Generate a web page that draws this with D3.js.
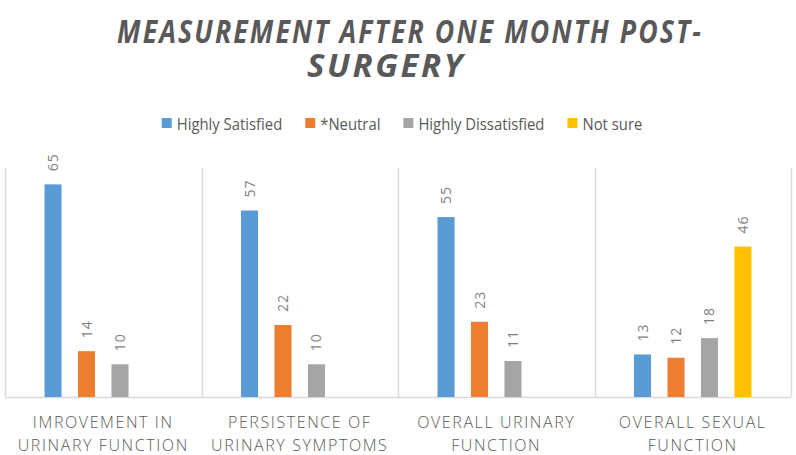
<!DOCTYPE html>
<html>
<head>
<meta charset="utf-8">
<script src="https://cdn.jsdelivr.net/npm/d3@7/dist/d3.min.js"></script>
<style>
  html, body { margin: 0; padding: 0; background: #fff; }
  svg { display: block; }
</style>
</head>
<body>
<svg id="chart" width="796" height="455"></svg>
<script>
// ---- Data ----
const categories = [
  ["IMROVEMENT IN", "URINARY FUNCTION"],
  ["PERSISTENCE OF", "URINARY SYMPTOMS"],
  ["OVERALL URINARY", "FUNCTION"],
  ["OVERALL SEXUAL", "FUNCTION"]
];
const seriesNames = ["Highly Satisfied", "*Neutral", "Highly Dissatisfied", "Not sure"];
const highlySatisfied = [65, 57, 55, 13];
const neutral = [14, 22, 23, 12];
const highlyDissatisfied = [10, 10, 11, 18];
const notSure = [null, null, null, 46];
const seriesColors = ["#5B9BD5", "#ED7D31", "#A5A5A5", "#FFC000"];
const titleLines = ["MEASUREMENT AFTER ONE MONTH POST-", "SURGERY"];

const seriesValues = [highlySatisfied, neutral, highlyDissatisfied, notSure];

// ---- Layout ----
const plot = { left: 5, right: 791, top: 168, bottom: 397 };
const svg = d3.select("#chart");

const x0 = d3.scaleBand()
  .domain(d3.range(categories.length))
  .range([plot.left, plot.right])
  .padding(0);

const x1 = d3.scaleBand()
  .domain(d3.range(seriesNames.length))
  .range([0, x0.bandwidth()])
  .paddingInner(0.49)
  .paddingOuter(1.18);

const y = d3.scaleLinear().domain([0, 70]).range([plot.bottom, plot.top]);

// Title (condensed horizontally to mimic a narrow face)
const titleSpec = [
  { cx: 410, base: 43, width: 586 },
  { cx: 386, base: 77, width: 158 }
];
titleLines.forEach((t, i) => {
  const g = svg.append("g");
  const txt = g.append("text")
    .attr("x", 0).attr("y", 0)
    .attr("text-anchor", "middle")
    .attr("font-family", "'Open Sans', sans-serif")
    .attr("font-weight", "bold")
    .attr("font-style", "italic")
    .attr("font-size", 32)
    .attr("letter-spacing", 2.5)
    .attr("fill", "#595959")
    .text(t);
  const w = txt.node().getComputedTextLength();
  const sx = titleSpec[i].width / w;
  g.attr("transform", `translate(${titleSpec[i].cx},${titleSpec[i].base}) scale(${sx},1)`);
});

// Legend
const legend = svg.append("g");
const legendItems = legend.selectAll("g").data(seriesNames).join("g");
legendItems.append("rect")
  .attr("width", 10).attr("height", 10)
  .attr("y", 118)
  .attr("fill", (d, i) => seriesColors[i]);
const legendTextScale = 0.9;
legendItems.append("text")
  .attr("transform", `translate(15,130) scale(${legendTextScale},1)`)
  .attr("font-family", "'Open Sans', sans-serif")
  .attr("font-size", 16.5)
  .attr("fill", "#595959")
  .text(d => d);
let lx = 0;
const gap = 23;
const positions = [];
legendItems.each(function (d, i) {
  const tw = d3.select(this).select("text").node().getComputedTextLength() * legendTextScale;
  positions.push(lx);
  lx += 15 + tw + gap;
});
const legendWidth = lx - gap;
const legendStart = 402 - legendWidth / 2;
legendItems.attr("transform", (d, i) => `translate(${legendStart + positions[i]},0)`);

// Separators / axis
const axisG = svg.append("g");
axisG.append("line")
  .attr("x1", plot.left).attr("x2", plot.right)
  .attr("y1", plot.bottom + 0.5).attr("y2", plot.bottom + 0.5)
  .attr("stroke", "#D9D9D9").attr("stroke-width", 1.5);
const seps = d3.range(categories.length + 1).map(i => i < categories.length ? x0(i) : x0(categories.length - 1) + x0.bandwidth());
axisG.selectAll("line.sep").data(seps).join("line")
  .attr("class", "sep")
  .attr("x1", d => Math.round(d) + 0.5).attr("x2", d => Math.round(d) + 0.5)
  .attr("y1", plot.top).attr("y2", plot.bottom)
  .attr("stroke", "#D9D9D9").attr("stroke-width", 1.5);

// Bars
const flat = [];
categories.forEach((c, ci) => {
  seriesValues.forEach((vals, si) => {
    if (vals[ci] != null) flat.push({ ci, si, v: vals[ci] });
  });
});

const barsG = svg.append("g");
barsG.selectAll("rect").data(flat).join("rect")
  .attr("x", d => x0(d.ci) + x1(d.si))
  .attr("y", d => y(d.v))
  .attr("width", x1.bandwidth())
  .attr("height", d => y(0) - y(d.v))
  .attr("fill", d => seriesColors[d.si]);

// Value labels
barsG.selectAll("text").data(flat).join("text")
  .attr("transform", d => {
    const cx = x0(d.ci) + x1(d.si) + x1.bandwidth() / 2;
    return `translate(${cx + 5},${y(d.v) - 13}) rotate(-90)`;
  })
  .attr("font-family", "'Open Sans', sans-serif")
  .attr("font-size", 14)
  .attr("letter-spacing", 1)
  .attr("fill", "#7F7F7F")
  .text(d => d.v);

// Category labels
const catG = svg.append("g");
categories.forEach((lines, ci) => {
  catG.append("text")
    .attr("x", x0(ci) + x0.bandwidth() / 2)
    .attr("text-anchor", "middle")
    .attr("font-family", "'Open Sans', sans-serif")
    .attr("font-weight", 300)
    .attr("font-size", 16)
    .attr("letter-spacing", 1.6)
    .attr("fill", "#595959")
    .selectAll("tspan").data(lines).join("tspan")
    .attr("x", x0(ci) + x0.bandwidth() / 2)
    .attr("y", (d, i) => 428 + i * 23)
    .text(d => d);
});
</script>
</body>
</html>
